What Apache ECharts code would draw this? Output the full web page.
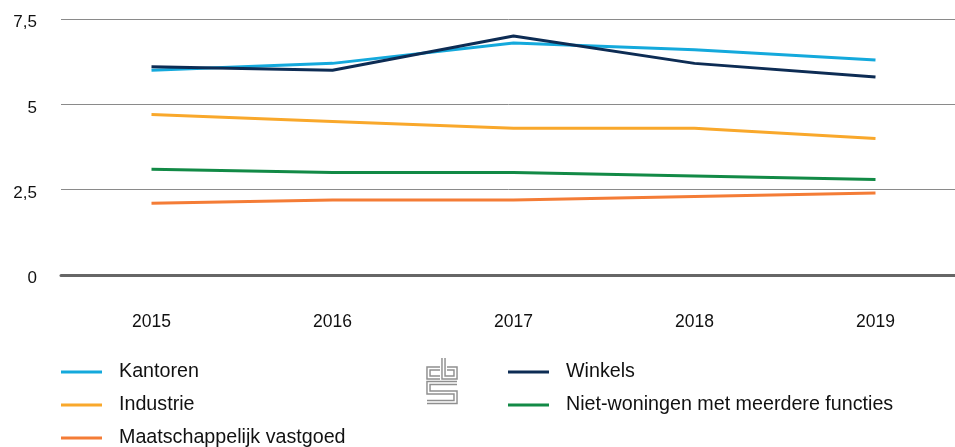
<!DOCTYPE html>
<html>
<head>
<meta charset="utf-8">
<script src="https://cdn.jsdelivr.net/npm/echarts@6/dist/echarts.min.js"></script>
<style>
  html, body { margin: 0; padding: 0; background: #fff; }
  #chart { width: 955px; height: 447px; }
</style>
</head>
<body>
<div id="chart"></div>
<script>
const years = ['2015', '2016', '2017', '2018', '2019'];
const kantoren = [6.0, 6.2, 6.8, 6.6, 6.3];
const winkels = [6.1, 6.0, 7.0, 6.2, 5.8];
const industrie = [4.7, 4.5, 4.3, 4.3, 4.0];
const meerdere = [3.1, 3.0, 3.0, 2.9, 2.8];
const maatschappelijk = [2.1, 2.2, 2.2, 2.3, 2.4];

const font = 'Liberation Sans, Arial, sans-serif';

function line(name, data, color) {
  return {
    name: name, type: 'line', data: data,
    showSymbol: false, symbol: 'none',
    lineStyle: { color: color, width: 3 },
    itemStyle: { color: color }
  };
}

// cbs logo, drawn as a thick grey stroke with a white core
function logoPart(points) {
  return [
    { type: 'polyline', shape: { points: points }, style: { stroke: '#8f8f8f', lineWidth: 4.5, fill: null } },
    { type: 'polyline', shape: { points: points }, style: { stroke: '#fff', lineWidth: 1.6, fill: null } }
  ];
}
const logo = [].concat(
  logoPart([[440, 368.5], [428.5, 368.5], [428.5, 377.5], [440, 377.5]]),
  logoPart([[443.5, 358], [443.5, 377.5], [455.5, 377.5], [455.5, 368.5], [447, 368.5]]),
  logoPart([[457, 383], [428.5, 383], [428.5, 392.5], [455.5, 392.5], [455.5, 402], [427, 402]])
);

const legendBase = {
  orient: 'vertical', icon: 'rect', itemWidth: 41, itemHeight: 3, itemGap: 13,
  padding: 0, height: 120,
  textStyle: { fontFamily: font, fontSize: 19.7, color: '#111', lineHeight: 20, padding: [0, 0, 0, 12] },
  selectedMode: false
};

const chart = echarts.init(document.getElementById('chart'));
chart.setOption({
  animation: false,
  grid: { left: 61, width: 905, top: 19, bottom: 172, outerBoundsMode: 'none', containLabel: false },
  legend: [
    Object.assign({}, legendBase, { left: 61, top: 362, data: ['Kantoren', 'Industrie', 'Maatschappelijk vastgoed'] }),
    Object.assign({}, legendBase, { left: 508, top: 362, data: ['Winkels', 'Niet-woningen met meerdere functies'] })
  ],
  xAxis: {
    type: 'category', data: years, boundaryGap: true,
    axisLine: { lineStyle: { color: '#666', width: 3 } },
    axisTick: { alignWithLabel: true, length: 15, lineStyle: { color: '#c8c8c8', width: 1.5 } },
    axisLabel: { fontFamily: font, fontSize: 17.5, color: '#111', margin: 38 }
  },
  yAxis: {
    type: 'value', min: 0, max: 7.5, interval: 2.5,
    axisLine: { show: false }, axisTick: { show: false },
    splitLine: { lineStyle: { color: '#8a8a8a', width: 1 } },
    axisLabel: {
      fontFamily: font, fontSize: 17, color: '#111', margin: 24,
      formatter: v => '{a|' + String(v).replace('.', ',') + '}',
      rich: { a: { fontFamily: font, fontSize: 17, color: '#111', padding: [7, 0, 0, 0] } }
    }
  },
  series: [
    line('Kantoren', kantoren, '#14a9dc'),
    line('Industrie', industrie, '#f9a82b'),
    line('Maatschappelijk vastgoed', maatschappelijk, '#f47c36'),
    line('Niet-woningen met meerdere functies', meerdere, '#128a46'),
    line('Winkels', winkels, '#0d2c54')
  ],
  graphic: logo
});
</script>
</body>
</html>
